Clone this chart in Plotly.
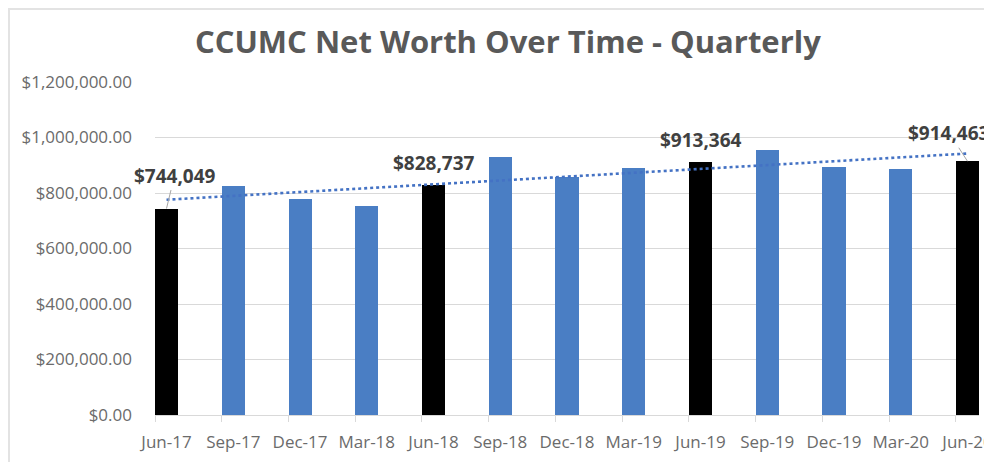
import numpy as np
import plotly.graph_objects as go

categories = ["Jun-17", "Sep-17", "Dec-17", "Mar-18", "Jun-18", "Sep-18", "Dec-18",
              "Mar-19", "Jun-19", "Sep-19", "Dec-19", "Mar-20", "Jun-20"]
net_worth = [744049, 826000, 777000, 753000, 828737, 928600, 856600,
             891000, 913364, 953800, 893700, 886500, 914463]
highlight = [True, False, False, False, True, False, False,
             False, True, False, False, False, True]
y_ticks = [0, 200000, 400000, 600000, 800000, 1000000, 1200000]

BLUE = "#4A7EC4"
BLACK = "#000000"
GRID = "#D9D9D9"
TXT = "#6B6B6B"
LBL = "#404040"
FONT = "Open Sans"

n = len(categories)
xpos = list(range(n))
bw = 0.345

# page body has an 8px default margin, so the figure is sized to fit inside it
W, H = 984, 454
ml, mr, mt, mb = 147, 13, 74, 47
pw, ph = W - ml - mr, H - mt - mb

fig = go.Figure()
fig.add_trace(go.Bar(
    x=xpos, y=net_worth, width=bw,
    marker=dict(color=[BLACK if h else BLUE for h in highlight], line=dict(width=0)),
    hoverinfo="skip", showlegend=False,
))

# linear trendline
slope, intercept = np.polyfit(xpos, net_worth, 1)
trend = [slope * x + intercept for x in xpos]
fig.add_trace(go.Scatter(
    x=xpos, y=trend, mode="lines",
    line=dict(color="#4472C4", width=2.6, dash="dot"),
    hoverinfo="skip", showlegend=False,
))

# data labels for highlighted bars
label_offsets = {0: (8, -33), 12: (-18, -28)}
for i, (v, h) in enumerate(zip(net_worth, highlight)):
    if not h:
        continue
    txt = "${:,}".format(v)
    if i in label_offsets:
        ax, ay = label_offsets[i]
        fig.add_annotation(x=i, y=v, text=txt, showarrow=True, arrowhead=0,
                           arrowwidth=1, arrowcolor="#A6A6A6", ax=ax, ay=ay,
                           standoff=0, font=dict(family=FONT, size=19, color=LBL, weight="bold"))
    else:
        fig.add_annotation(x=i, y=v, text=txt, showarrow=False, yanchor="middle",
                           yshift=22, font=dict(family=FONT, size=19, color=LBL, weight="bold"))

# chart border (light frame, cut at right/bottom)
def px_x(p):
    return (p - ml) / pw

def px_y(p):
    return (H - mb - p) / ph

fig.add_shape(type="rect", xref="paper", yref="paper",
              x0=px_x(1), x1=px_x(1100), y0=px_y(600), y1=px_y(1),
              line=dict(color="#E3E3E3", width=2), fillcolor="rgba(0,0,0,0)", layer="below")

fig.update_layout(
    width=W, height=H,
    margin=dict(l=ml, r=mr, t=mt, b=mb, autoexpand=False),
    paper_bgcolor="white", plot_bgcolor="white",
    title=dict(text="CCUMC Net Worth Over Time - Quarterly", x=0.508, xanchor="center",
               y=1 - 34 / H, yanchor="middle",
               font=dict(family=FONT, size=31, color="#595959", weight="bold")),
    bargap=0,
    xaxis=dict(
        range=[-bw / 2, n - 1 + bw / 2],
        tickmode="array", tickvals=xpos, ticktext=categories,
        ticks="", showgrid=False, zeroline=False,
        showline=True, linecolor=GRID, linewidth=1,
        tickfont=dict(family=FONT, size=17, color=TXT),
        ticklabelstandoff=12, ticklabeloverflow="allow", automargin=False,
        minor=dict(tickmode="array", tickvals=[x - bw / 2 for x in xpos],
                   ticks="outside", ticklen=6, tickcolor=GRID, tickwidth=1, showgrid=False),
        fixedrange=True,
    ),
    yaxis=dict(
        range=[0, 1200000],
        tickmode="array", tickvals=y_ticks, tickformat="$,.2f",
        showgrid=True, gridcolor=GRID, gridwidth=1,
        zeroline=False, showline=False, ticks="",
        tickfont=dict(family=FONT, size=17, color=TXT),
        ticklabelstandoff=22, automargin=False,
        fixedrange=True,
    ),
)

fig.write_html("out.html")
